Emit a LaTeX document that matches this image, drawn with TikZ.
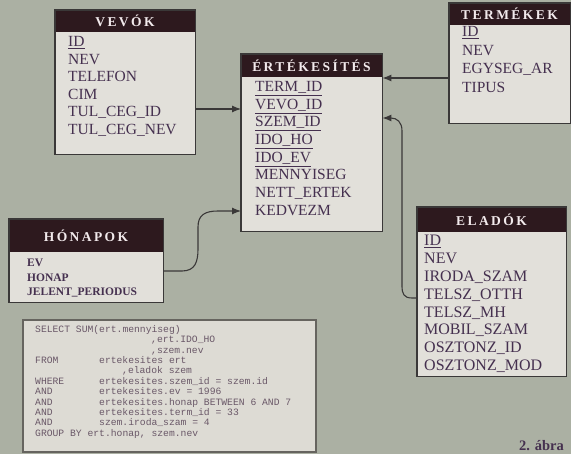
\documentclass[tikz,border=0pt]{standalone}
\usepackage{fontspec}
\setmainfont{Liberation Serif}
\setmonofont{Liberation Mono}
\usetikzlibrary{arrows.meta,calc}
\definecolor{bg}{HTML}{ABB0A3}
\definecolor{boxfill}{HTML}{E2E0DA}
\definecolor{hdr}{HTML}{2D191E}
\definecolor{hdrtxt}{HTML}{F2EAEC}
\definecolor{txt}{HTML}{45304F}
\definecolor{edge}{HTML}{3A3838}
\definecolor{sqlfill}{HTML}{DDDBD4}
\definecolor{sqledge}{HTML}{66645F}
\definecolor{sqltxt}{HTML}{6A5868}
\tikzset{
 tblbox/.style={fill=boxfill, draw=none, inner sep=0, anchor=north west},
 tbledge/.style={draw=edge, line width=1.2pt},
 hdrtext/.style={text=hdrtxt, font=\fontsize{13.5}{13.5}\selectfont\bfseries\addfontfeature{LetterSpace=18}, inner sep=0},
 row/.style={text=txt, font=\fontsize{15.5}{15.5}\selectfont, anchor=base west, inner sep=0},
 bigrow/.style={text=txt, font=\fontsize{16}{16}\selectfont, anchor=base west, inner sep=0},
 smallrow/.style={text=txt, font=\fontsize{11.5}{11.5}\selectfont\bfseries, anchor=base west, inner sep=0},
 sqlline/.style={text=sqltxt, font=\fontsize{9.7}{9.7}\selectfont\ttfamily, anchor=base west, inner sep=0},
 link/.style={draw=edge, line width=1.1pt, -{Latex[length=9pt,width=7pt]}},
 caption/.style={text=txt, font=\fontsize{14.5}{14.5}\selectfont\bfseries, anchor=base west, inner sep=0},
}
\newcommand\mktable[7]{%
 \node[tblbox, minimum width=#4pt, minimum height=#5pt] (#1) at (#2,#3) {};
 \fill[hdr] (#1.north west) rectangle ++(#4,#6);
 \draw[tbledge] (#1.north west) rectangle (#1.south east);
 \node[hdrtext] (#1-title) at ($(#1.north west)+(#4/2,#6/2)$) {#7};
}
\begin{document}
\begin{tikzpicture}[x=1pt,y=-1pt]
\fill[bg] (0,0) rectangle (571,454);
\useasboundingbox (0,0) rectangle (571,454);

% VEVOK
\mktable{vevok}{55}{10}{140}{144}{22}{VEVÓK}
\node[row] (v1) at (68,47) {\underline{ID}};
\node[row] (v2) at (68,65) {NEV};
\node[row] (v3) at (68,82) {TELEFON};
\node[row] (v4) at (68,100) {CIM};
\node[row] (v5) at (68,117) {TUL\_CEG\_ID};
\node[row] (v6) at (68,135) {TUL\_CEG\_NEV};

% ERTEKESITES
\mktable{ert}{241}{54}{141}{177}{23}{ÉRTÉKESÍTÉS}
\node[row] (e1) at (255,92) {\underline{TERM\_ID}};
\node[row] (e2) at (255,110) {\underline{VEVO\_ID}};
\node[row] (e3) at (255,127) {\underline{SZEM\_ID}};
\node[row] (e4) at (255,145) {\underline{IDO\_HO}};
\node[row] (e5) at (255,163) {\underline{IDO\_EV}};
\node[row] (e6) at (255,180) {MENNYISEG};
\node[row] (e7) at (255,198) {NETT\_ERTEK};
\node[row] (e8) at (255,216) {KEDVEZM};

% TERMEKEK
\mktable{term}{449}{3}{121}{120}{22}{TERMÉKEK}
\node[row] (t1) at (462,37) {\underline{ID}};
\node[row] (t2) at (462,55.5) {NEV};
\node[row] (t3) at (462,74) {EGYSEG\_AR};
\node[row] (t4) at (462,92.5) {TIPUS};

% HONAPOK
\mktable{hon}{9}{219}{154}{83}{33}{HÓNAPOK}
\node[smallrow] (h1) at (27,267) {EV};
\node[smallrow] (h2) at (27,282) {HONAP};
\node[smallrow] (h3) at (27,296) {JELENT\_PERIODUS};

% ELADOK
\mktable{ela}{417}{207}{149}{169}{25}{ELADÓK}
\node[bigrow] (l1) at (424,246) {\underline{ID}};
\node[bigrow] (l2) at (424,264) {NEV};
\node[bigrow] (l3) at (424,282) {IRODA\_SZAM};
\node[bigrow] (l4) at (424,300) {TELSZ\_OTTH};
\node[bigrow] (l5) at (424,318) {TELSZ\_MH};
\node[bigrow] (l6) at (424,335) {MOBIL\_SZAM};
\node[bigrow] (l7) at (424,353) {OSZTONZ\_ID};
\node[bigrow] (l8) at (424,371) {OSZTONZ\_MOD};

% connectors
\draw[link] ($(vevok.north east)+(0,99)$) -- ($(ert.north west)+(0,55)$);
\draw[link] ($(term.north west)+(0,75)$) -- ($(ert.north east)+(0,24)$);
\draw[link] ($(ela.north west)+(0,91)$) -- (412,298)
  .. controls (404,298) and (402,294) .. (402,286) -- (402,131)
  .. controls (402,122) and (397,118) .. ($(ert.north east)+(0,64)$);
\draw[link] ($(hon.north east)+(0,52)$) -- (182,271)
  .. controls (195,271) and (198,262) .. (198,249) -- (198,227)
  .. controls (198,215) and (205,211) .. (218,211) -- ($(ert.north west)+(0,157)$);

% SQL box
\node[fill=sqlfill, draw=sqledge, line width=1.6pt, inner sep=0, anchor=north west,
  minimum width=293pt, minimum height=132pt] (sql) at (22,319) {};
\node[sqlline] (q1) at (35,332.3) {SELECT SUM(ert.mennyiseg)};
\node[sqlline] (q2) at (151,342.7) {,ert.IDO\_HO};
\node[sqlline] (q3) at (151,353.1) {,szem.nev};
\node[sqlline] (q4k) at (35,363.5) {FROM};
\node[sqlline] (q4) at (99,363.5) {ertekesites ert};
\node[sqlline] (q5) at (122,373.9) {,eladok szem};
\node[sqlline] (q6k) at (35,384.3) {WHERE};
\node[sqlline] (q6) at (99,384.3) {ertekesites.szem\_id = szem.id};
\node[sqlline] (q7k) at (35,394.7) {AND};
\node[sqlline] (q7) at (99,394.7) {ertekesites.ev = 1996};
\node[sqlline] (q8k) at (35,405.1) {AND};
\node[sqlline] (q8) at (99,405.1) {ertekesites.honap BETWEEN 6 AND 7};
\node[sqlline] (q9k) at (35,415.5) {AND};
\node[sqlline] (q9) at (99,415.5) {ertekesites.term\_id = 33};
\node[sqlline] (q10k) at (35,425.9) {AND};
\node[sqlline] (q10) at (99,425.9) {szem.iroda\_szam = 4};
\node[sqlline] (q11) at (35,436.3) {GROUP BY ert.honap, szem.nev};

% caption
\node[caption] (cap) at (519,451) {2. ábra};
\end{tikzpicture}
\end{document}
